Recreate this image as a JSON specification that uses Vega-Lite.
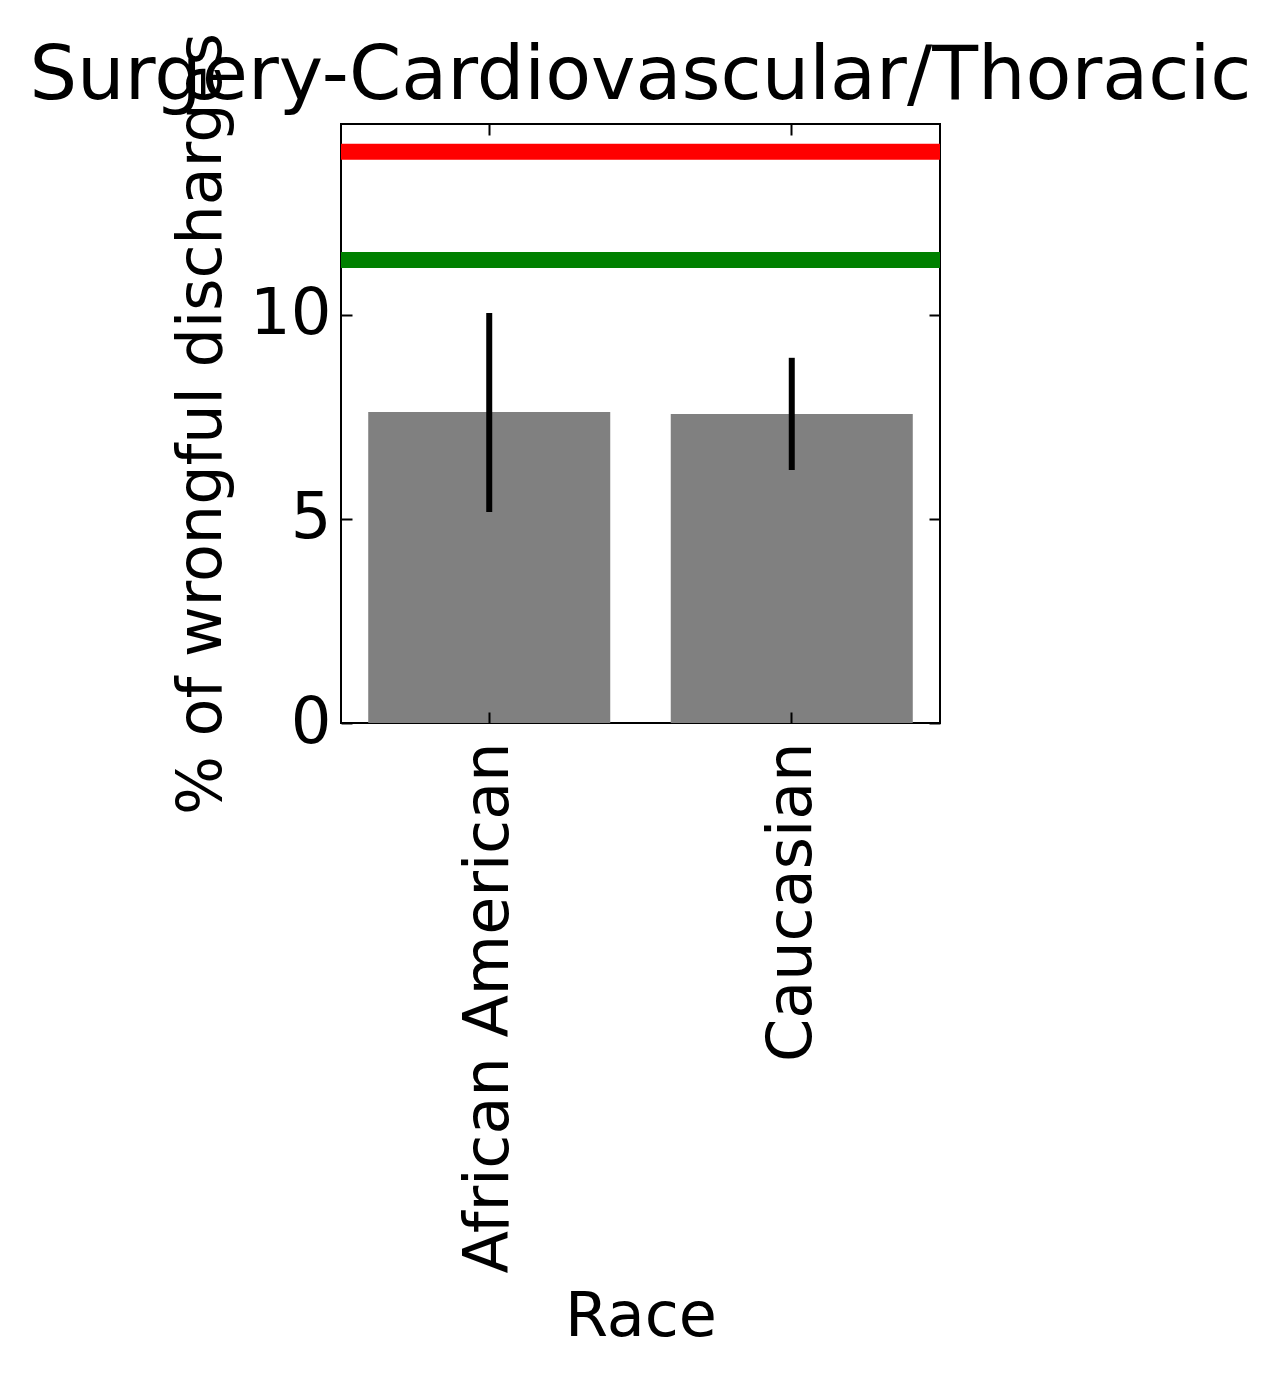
{
  "$schema": "https://vega.github.io/schema/vega-lite/v6.json",
  "width": 599,
  "height": 599,
  "autosize": {"type": "none"},
  "padding": {"left": 341, "top": 124, "right": 341, "bottom": 657},
  "background": "white",
  "config": {
    "font": "DejaVu Sans",
    "view": {"stroke": "black", "strokeWidth": 2},
    "axis": {
      "grid": false,
      "domain": false,
      "tickColor": "black",
      "tickWidth": 2,
      "tickSize": -11,
      "labelFont": "DejaVu Sans",
      "labelFontSize": 62,
      "labelColor": "black",
      "labelLimit": 2000,
      "titleFont": "DejaVu Sans",
      "titleFontSize": 62,
      "titleFontWeight": "normal",
      "titleColor": "black"
    }
  },
  "title": {
    "text": "Surgery-Cardiovascular/Thoracic",
    "fontSize": 75,
    "fontWeight": "normal",
    "color": "black",
    "font": "DejaVu Sans",
    "anchor": "middle",
    "frame": "group",
    "offset": -83
  },
  "datasets": {
    "bars": [
      {"race": "African American", "pct": 7.62, "lo": 5.17, "hi": 10.05},
      {"race": "Caucasian", "pct": 7.57, "lo": 6.2, "hi": 8.95}
    ],
    "lines": [
      {"level": 14.0, "kind": "red"},
      {"level": 11.35, "kind": "green"}
    ]
  },
  "layer": [
    {
      "data": {"name": "bars"},
      "mark": {"type": "bar", "color": "#808080"},
      "encoding": {
        "x": {
          "field": "race", "type": "nominal",
          "scale": {"type": "band", "paddingInner": 0.2, "paddingOuter": 0.09},
          "axis": {"orient": "bottom", "title": "Race", "labelAngle": -90, "labelPadding": 30, "titlePadding": 14, "maxExtent": 1000, "ticks": true, "tickSize": -11, "zindex": 2}
        },
        "y": {
          "field": "pct", "type": "quantitative",
          "scale": {"domain": [0, 14.68], "nice": false, "zero": true},
          "axis": {"orient": "left", "values": [0, 5, 10], "labelFontSize": 64, "title": "% of wrongful discharges", "labelPadding": 21, "titlePadding": 16, "zindex": 2}
        }
      }
    },
    {
      "data": {"name": "bars"},
      "mark": {"type": "rule", "color": "black", "strokeWidth": 6},
      "encoding": {
        "x": {
          "field": "race", "type": "nominal",
          "scale": {"type": "band", "paddingInner": 0.2, "paddingOuter": 0.09},
          "axis": {"orient": "top", "labels": false, "title": null}
        },
        "y": {
          "field": "lo", "type": "quantitative",
          "axis": {"orient": "right", "values": [0, 5, 10], "labels": false, "title": null}
        },
        "y2": {"field": "hi"}
      }
    },
    {
      "data": {"name": "lines"},
      "mark": {"type": "rule", "strokeWidth": 16, "strokeCap": "butt"},
      "encoding": {
        "y": {"field": "level", "type": "quantitative", "axis": null},
        "color": {
          "field": "kind", "type": "nominal",
          "scale": {"domain": ["red", "green"], "range": ["#ff0000", "#008000"]},
          "legend": null
        }
      }
    }
  ],
  "resolve": {"axis": {"x": "independent", "y": "independent"}}
}
